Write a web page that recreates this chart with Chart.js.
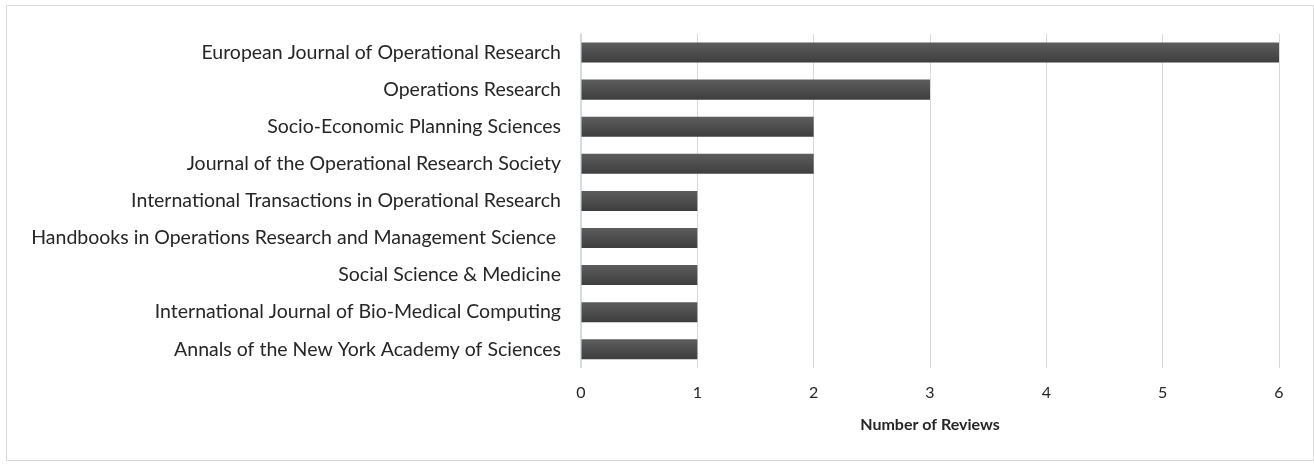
<!DOCTYPE html>
<html lang="en">
<head>
  <meta charset="UTF-8" />
  <title>Number of Reviews</title>
  <script src="https://cdn.jsdelivr.net/npm/chart.js"></script>
  <style>
    html, body { margin: 0; padding: 0; background: #fff; }
    .frame {
      position: absolute; left: 6px; top: 5px;
      width: 1306px; height: 454px;
      border: 1px solid #d9d9d9;
    }
    .wrap { position: absolute; left: 0; top: 0; width: 1314px; height: 466px; }
  </style>
</head>
<body>
  <div class="frame"></div>
  <div class="wrap"><canvas id="reviewChart" width="1314" height="466"></canvas></div>
  <script>
    const journals = [
      'European Journal of Operational Research',
      'Operations Research',
      'Socio-Economic Planning Sciences',
      'Journal of the Operational Research Society',
      'International Transactions in Operational Research',
      'Handbooks in Operations Research and Management Science ',
      'Social Science & Medicine',
      'International Journal of Bio-Medical Computing',
      'Annals of the New York Academy of Sciences'
    ];
    const reviews = [6, 3, 2, 2, 1, 1, 1, 1, 1];
    const xTicks = [0, 1, 2, 3, 4, 5, 6];

    const labelFont = "Lato, 'Open Sans', sans-serif";
    const barPct = 0.54;

    // vertical gradient for each bar, like the original
    function barFill(ctx) {
      const chart = ctx.chart;
      const y = chart.scales.y;
      if (!y || ctx.dataIndex === undefined) return '#4d4d4d';
      const cat = (y.bottom - y.top) / journals.length;
      const h = cat * barPct;
      const mid = y.getPixelForValue(ctx.dataIndex);
      if (!isFinite(mid) || !isFinite(h) || h <= 0) return '#4d4d4d';
      const g = chart.ctx.createLinearGradient(0, mid - h / 2, 0, mid + h / 2);
      g.addColorStop(0, '#5d5d5d');
      g.addColorStop(1, '#3e3e3e');
      return g;
    }

    new Chart(document.getElementById('reviewChart'), {
      type: 'bar',
      data: {
        labels: journals,
        datasets: [{
          label: 'Number of Reviews',
          data: reviews,
          backgroundColor: barFill,
          borderWidth: 0,
          categoryPercentage: 1,
          barPercentage: barPct
        }]
      },
      options: {
        indexAxis: 'y',
        responsive: false,
        animation: false,
        devicePixelRatio: 1,
        layout: { padding: { top: 34, right: 35, bottom: 33, left: 0 } },
        plugins: {
          legend: { display: false },
          tooltip: { enabled: false }
        },
        scales: {
          x: {
            min: 0,
            max: 6,
            afterBuildTicks: s => { s.ticks = xTicks.map(v => ({ value: v })); },
            grid: { color: '#d9d9d9', lineWidth: 1, drawTicks: false },
            border: { display: false },
            ticks: {
              padding: 15,
              color: '#262626',
              font: { family: labelFont, size: 16 }
            },
            title: {
              display: true,
              text: 'Number of Reviews',
              color: '#262626',
              padding: { top: 0, bottom: 0 },
              font: { family: labelFont, size: 16, weight: 'bold', lineHeight: 1 }
            }
          },
          y: {
            afterFit: s => { s.width = 581; },
            grid: { display: false, drawTicks: false },
            border: { display: true, color: '#d5dae3', width: 1.5 },
            ticks: {
              padding: 20,
              color: '#262626',
              font: { family: labelFont, size: 19.5 }
            }
          }
        }
      }
    });
  </script>
</body>
</html>
